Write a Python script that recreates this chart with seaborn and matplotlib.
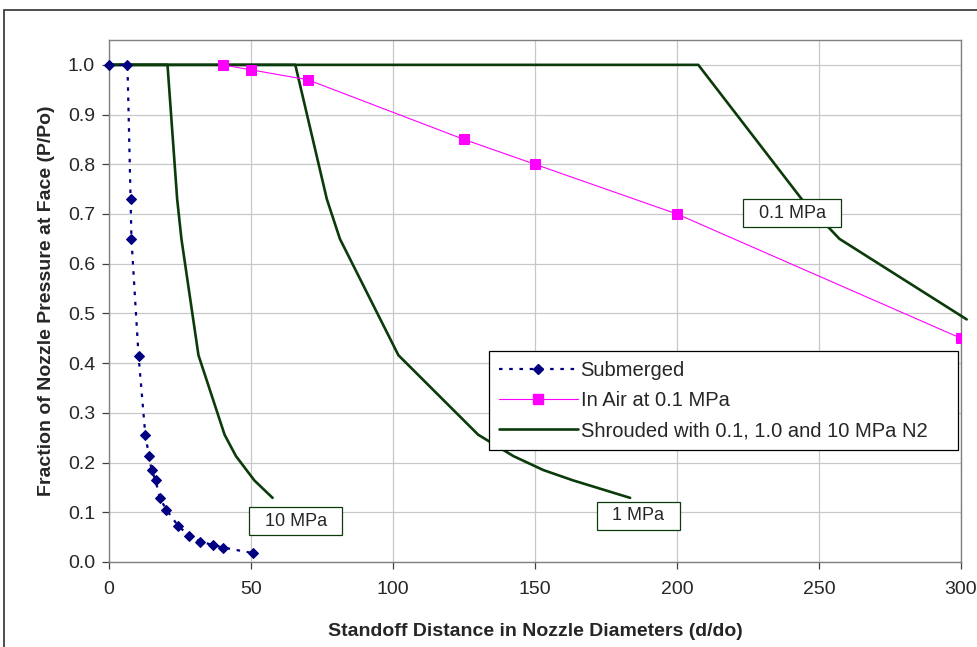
import numpy as np
import pandas as pd
import matplotlib
matplotlib.use("Agg")
import matplotlib.pyplot as plt
from matplotlib.patches import Rectangle
from matplotlib.lines import Line2D
import seaborn as sns

# ---- data ----
sub_x = [0, 6.5, 7.6, 7.9, 10.4, 12.8, 14.1, 15.0, 16.4, 17.9, 20.2, 24.3, 28.2, 32.2, 36.6, 40.3, 50.6]
sub_y = [1.0, 1.0, 0.73, 0.65, 0.415, 0.255, 0.213, 0.185, 0.164, 0.129, 0.105, 0.073, 0.053, 0.041, 0.034, 0.029, 0.018]

air_x = [40, 50, 70, 125, 150, 200, 300]
air_y = [1.0, 0.99, 0.97, 0.85, 0.80, 0.70, 0.45]

sh10_x = [0, 20.6, 24.0, 25.5, 31.5, 40.7, 44.7, 51.2, 57.6]
sh10_y = [1.0, 1.0, 0.73, 0.65, 0.416, 0.256, 0.213, 0.164, 0.129]
sh1_x = [0, 65.6, 76.7, 81.3, 101.9, 130.0, 142.4, 152.9, 163.5, 183.5]
sh1_y = [1.0, 1.0, 0.73, 0.65, 0.416, 0.256, 0.213, 0.185, 0.164, 0.129]
sh01_x = [0, 207.5, 243.9, 257.2, 302.0]
sh01_y = [1.0, 1.0, 0.73, 0.65, 0.488]

curve_labels = ["10 MPa", "1 MPa", "0.1 MPa"]
label_pos = [(65.8, 0.082), (186.3, 0.093), (240.5, 0.702)]

NAVY, MAGENTA, GREEN = "#000080", "#FF00FF", "#0B3B0B"
SUB_DASH = (0, (1.6, 3.0))

sns.set_style("whitegrid")
plt.rcParams["font.family"] = ["Liberation Sans", "DejaVu Sans"]

fig = plt.figure(figsize=(9.78, 6.47), dpi=100)
ax = fig.add_axes([109/978, 1 - 562/647, 852/978, 522/647])

shroud = pd.DataFrame({
    "x": sh10_x + sh1_x + sh01_x,
    "y": sh10_y + sh1_y + sh01_y,
    "curve": ["10"] * len(sh10_x) + ["1"] * len(sh1_x) + ["0.1"] * len(sh01_x),
})
sns.lineplot(data=shroud, x="x", y="y", units="curve", estimator=None, sort=False,
             color=GREEN, linewidth=1.9, ax=ax, clip_on=False, zorder=3)

sns.lineplot(x=air_x, y=air_y, sort=False, color=MAGENTA, linewidth=0.8,
             marker="s", markersize=7, markeredgecolor=MAGENTA, ax=ax, zorder=4)

sns.lineplot(x=sub_x, y=sub_y, sort=False, color=NAVY, linewidth=1.6,
             linestyle=SUB_DASH, marker="D", markersize=5.5,
             markeredgecolor=NAVY, ax=ax, zorder=5, clip_on=False)

for lab, (lx, ly) in zip(curve_labels, label_pos):
    ax.text(lx, ly, "  " + lab + "  ", ha="center", va="center", fontsize=13, zorder=6,
            bbox=dict(boxstyle="square,pad=0.3", fc="white", ec=GREEN, lw=0.9))

ax.set_xlim(0, 300)
ax.set_ylim(0, 1.05)
ax.set_xticks(np.arange(0, 301, 50))
ax.set_yticks(np.arange(0, 1.01, 0.1))
ax.set_yticklabels([f"{v:.1f}" for v in np.arange(0, 1.01, 0.1)])
ax.grid(True, color="#C8C8C8", linewidth=0.9)
for s in ax.spines.values():
    s.set_color("#808080")
    s.set_linewidth(1.0)
ax.tick_params(axis="both", labelsize=14, length=5, width=0.9, color="#404040",
               direction="out", left=True, bottom=True, pad=5)
ax.tick_params(axis="x", pad=9)
ax.set_xlabel("Standoff Distance in Nozzle Diameters (d/do)", fontsize=14,
              fontweight="bold", labelpad=18)
ax.set_ylabel("Fraction of Nozzle Pressure at Face (P/Po)", fontsize=14,
              fontweight="bold", labelpad=9)

handles = [
    Line2D([], [], color=NAVY, lw=1.6, ls=SUB_DASH, marker="D", ms=5.5),
    Line2D([], [], color=MAGENTA, lw=0.8, marker="s", ms=7),
    Line2D([], [], color=GREEN, lw=1.9),
]
leg = ax.legend(handles, ["Submerged", "In Air at 0.1 MPa", "Shrouded with 0.1, 1.0 and 10 MPa N2"],
                loc="upper left", bbox_to_anchor=(0.446, 0.213, 0.551, 0.191), mode="expand",
                borderaxespad=0, fontsize=14.5, frameon=True, fancybox=False,
                edgecolor="black", framealpha=1, borderpad=0.5, handlelength=3.9,
                handletextpad=0.15, labelspacing=0.55)
leg.get_frame().set_linewidth(0.9)
leg.set_zorder(7)

# outer chart frame (clipped on right/bottom like the source)
fig.add_artist(Rectangle((4/978, -0.1), 1.2, 1.1 - 10/647, transform=fig.transFigure,
                         fill=False, ec="#303030", lw=1.2))

fig.savefig("out.png", dpi=100, facecolor="white")
